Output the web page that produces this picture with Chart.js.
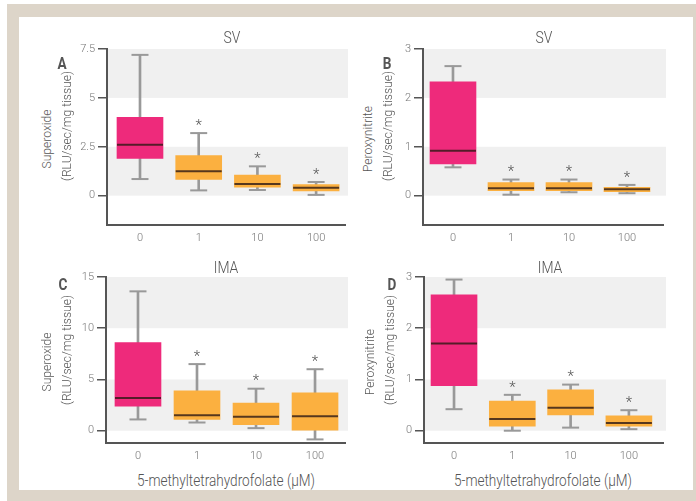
<!DOCTYPE html>
<html>
<head>
<meta charset="utf-8">
<script src="https://cdn.jsdelivr.net/npm/chart.js@4.4.0/dist/chart.umd.min.js"></script>
<style>
  html, body { margin: 0; padding: 0; width: 696px; height: 501px; overflow: hidden; background: #fff; }
  body { position: relative; font-family: Roboto, "Open Sans", sans-serif; font-weight: 300; color: #555; }
  #frame { position: absolute; left: 7px; top: 4px; width: 689px; height: 497px; background: #ddd5c9; }
  #inner { position: absolute; left: 19px; top: 17px; width: 674px; height: 473px; background: #fff; }
  canvas { position: absolute; }
  .txt { position: absolute; white-space: nowrap; line-height: 1; }
  .title { font-size: 17px; color: #555; transform: translate(-50%, -50%) scaleX(0.82); }
  .letter { font-size: 16px; font-weight: bold; color: #555; transform: translate(-50%, -50%) scaleX(0.85); }
  .ytitle { font-size: 13px; color: #555; transform: translate(-50%, -50%) rotate(-90deg) scaleX(0.93); }
  .xtitle { font-size: 17px; color: #555; transform: translate(-50%, -50%) scaleX(0.8); }
</style>
</head>
<body>
<div id="frame"></div>
<div id="inner"></div>

<canvas id="chartA" width="290" height="210" style="left:60px;top:40px"></canvas>
<canvas id="chartB" width="292" height="210" style="left:376px;top:40px"></canvas>
<canvas id="chartC" width="291" height="200" style="left:59px;top:268px"></canvas>
<canvas id="chartD" width="291" height="200" style="left:377px;top:268px"></canvas>

<div class="txt title" style="left:232px;top:37px">SV</div>
<div class="txt title" style="left:544px;top:37px">SV</div>
<div class="txt title" style="left:226px;top:267px">IMA</div>
<div class="txt title" style="left:550px;top:267px">IMA</div>

<div class="txt letter" style="left:62px;top:64px">A</div>
<div class="txt letter" style="left:387px;top:64px">B</div>
<div class="txt letter" style="left:63px;top:285px">C</div>
<div class="txt letter" style="left:392px;top:285px">D</div>

<div class="txt ytitle" style="left:46px;top:139px">Superoxide</div>
<div class="txt ytitle" style="left:65.5px;top:126px">(RLU/sec/mg tissue)</div>
<div class="txt ytitle" style="left:367px;top:139px">Peroxynitrite</div>
<div class="txt ytitle" style="left:387px;top:126px">(RLU/sec/mg tissue)</div>
<div class="txt ytitle" style="left:46px;top:362px">Superoxide</div>
<div class="txt ytitle" style="left:65.5px;top:350px">(RLU/sec/mg tissue)</div>
<div class="txt ytitle" style="left:369px;top:362px">Peroxynitrite</div>
<div class="txt ytitle" style="left:389px;top:350px">(RLU/sec/mg tissue)</div>

<div class="txt xtitle" style="left:226px;top:480px">5-methyltetrahydrofolate (μM)</div>
<div class="txt xtitle" style="left:543px;top:480px">5-methyltetrahydrofolate (μM)</div>

<script>
// 5-MTHF concentrations (µM) on the x axis, and significance marks per dose
const doseLabels = ['0', '1', '10', '100'];
const starLabels = ['', '*', '*', '*'];

// A: saphenous vein, superoxide
const svSuperoxideMin    = [0.85, 0.27, 0.29, 0.04];
const svSuperoxideQ1     = [1.9, 0.83, 0.44, 0.24];
const svSuperoxideMedian = [2.6, 1.25, 0.6, 0.4];
const svSuperoxideQ3     = [4.0, 2.05, 1.05, 0.57];
const svSuperoxideMax    = [7.2, 3.2, 1.5, 0.7];
const svSuperoxideTicks  = [0, 2.5, 5, 7.5];

// B: saphenous vein, peroxynitrite
const svPeroxMin    = [0.58, 0.02, 0.07, 0.05];
const svPeroxQ1     = [0.65, 0.1, 0.1, 0.08];
const svPeroxMedian = [0.92, 0.15, 0.15, 0.13];
const svPeroxQ3     = [2.33, 0.27, 0.27, 0.17];
const svPeroxMax    = [2.65, 0.33, 0.33, 0.22];
const svPeroxTicks  = [0, 1, 2, 3];

// C: internal mammary artery, superoxide
const imaSuperoxideMin    = [1.1, 0.8, 0.25, -0.85];
const imaSuperoxideQ1     = [2.4, 1.1, 0.6, 0.05];
const imaSuperoxideMedian = [3.2, 1.5, 1.35, 1.4];
const imaSuperoxideQ3     = [8.6, 3.9, 2.7, 3.7];
const imaSuperoxideMax    = [13.6, 6.5, 4.1, 6.0];
const imaSuperoxideTicks  = [0, 5, 10, 15];

// D: internal mammary artery, peroxynitrite
const imaPeroxMin    = [0.42, 0.0, 0.06, 0.03];
const imaPeroxQ1     = [0.88, 0.09, 0.31, 0.09];
const imaPeroxMedian = [1.7, 0.23, 0.45, 0.15];
const imaPeroxQ3     = [2.65, 0.58, 0.8, 0.29];
const imaPeroxMax    = [2.95, 0.7, 0.9, 0.4];
const imaPeroxTicks  = [0, 1, 2, 3];

const FONT = 'Roboto, "Open Sans", sans-serif';
const PINK = '#ee2a7b';
const ORANGE = '#fbb040';
const WHISKER = '#999999';
const MEDIAN = 'rgba(45, 25, 20, 0.8)';
const AXIS = '#555';
const BAND = '#f0f0f0';

// shaded horizontal bands behind the boxes, every other tick interval
const bandPlugin = {
  id: 'bands',
  beforeDraw(chart, args, opts) {
    const { ctx, chartArea } = chart;
    const y = chart.scales.y;
    ctx.save();
    ctx.fillStyle = BAND;
    for (const [lo, hi] of opts.ranges) {
      const top = y.getPixelForValue(hi);
      const bottom = y.getPixelForValue(lo);
      ctx.fillRect(chartArea.left, top, chartArea.right - chartArea.left + 3, bottom - top);
    }
    ctx.restore();
  }
};

// significance asterisks above the upper whiskers
const starPlugin = {
  id: 'stars',
  afterDatasetsDraw(chart, args, opts) {
    const { ctx } = chart;
    const x = chart.scales.x, y = chart.scales.y;
    ctx.save();
    ctx.fillStyle = '#555';
    ctx.font = '300 15px ' + FONT;
    ctx.textAlign = 'center';
    ctx.textBaseline = 'middle';
    opts.marks.forEach((m, i) => {
      if (!m) return;
      ctx.fillText(m, x.getPixelForValue(i), y.getPixelForValue(opts.tops[i]) - 7);
    });
    ctx.restore();
  }
};

function pts(arr) { return arr.map((v, i) => ({ x: i, y: v })); }
function spans(lo, hi) { return lo.map((v, i) => ({ x: i, y: [v, hi[i]] })); }

function boxPanel(id, s, yMin, yMax, yTicks, bands, xMin, xMax) {
  const colors = doseLabels.map((d, i) => (i === 0 ? PINK : ORANGE));
  return new Chart(document.getElementById(id), {
    data: {
      datasets: [
        { type: 'line', data: pts(s.median), showLine: false, pointStyle: 'line',
          pointRadius: 23, pointHoverRadius: 23, pointBorderWidth: 2, pointBorderColor: MEDIAN },
        { type: 'bar', data: spans(s.q1, s.q3), backgroundColor: colors,
          barThickness: 46, grouped: false, borderWidth: 0 },
        { type: 'line', data: pts(s.min).concat(pts(s.max)), showLine: false, pointStyle: 'line',
          pointRadius: 8.5, pointHoverRadius: 8.5, pointBorderWidth: 2, pointBorderColor: WHISKER },
        { type: 'bar', data: spans(s.min, s.max), backgroundColor: WHISKER,
          barThickness: 2, grouped: false, borderWidth: 0 }
      ]
    },
    options: {
      responsive: false,
      animation: false,
      events: [],
      layout: { autoPadding: false, padding: { top: 9, right: 5, left: 0, bottom: 0 } },
      plugins: {
        legend: { display: false },
        tooltip: { enabled: false },
        bands: { ranges: bands },
        stars: { marks: starLabels, tops: s.max }
      },
      scales: {
        x: {
          type: 'linear', min: xMin, max: xMax, offset: false,
          afterBuildTicks: sc => { sc.ticks = doseLabels.map((d, i) => ({ value: i })); },
          afterFit: sc => { sc.height = 25; sc.paddingLeft = 0; sc.paddingRight = 0; },
          ticks: { callback: v => doseLabels[v], color: '#777', padding: 7,
                   font: { family: FONT, size: 11, weight: '300' }, maxRotation: 0, autoSkip: false },
          grid: { offset: false, drawOnChartArea: false, drawTicks: false, color: AXIS },
          border: { display: true, color: AXIS, width: 2 }
        },
        y: {
          type: 'linear', min: yMin, max: yMax,
          afterBuildTicks: sc => { sc.ticks = yTicks.map(v => ({ value: v })); },
          afterFit: sc => { sc.width = 47; sc.paddingTop = 0; sc.paddingBottom = 0; },
          ticks: { callback: v => String(v), color: '#777', padding: 3,
                   font: { family: FONT, size: 11, weight: '300' } },
          grid: { drawOnChartArea: false, drawTicks: true, tickLength: 9, color: AXIS, lineWidth: 1.5 },
          border: { display: true, color: AXIS, width: 2 }
        }
      }
    },
    plugins: [bandPlugin, starPlugin]
  });
}

boxPanel('chartA',
  { min: svSuperoxideMin, q1: svSuperoxideQ1, median: svSuperoxideMedian, q3: svSuperoxideQ3, max: svSuperoxideMax },
  -1.5, 7.5, svSuperoxideTicks, [[0, 2.5], [5, 7.5]], -0.562, 3.492);

boxPanel('chartB',
  { min: svPeroxMin, q1: svPeroxQ1, median: svPeroxMedian, q3: svPeroxQ3, max: svPeroxMax },
  -0.6, 3, svPeroxTicks, [[0, 1], [2, 3]], -0.517, 3.621);

boxPanel('chartC',
  { min: imaSuperoxideMin, q1: imaSuperoxideQ1, median: imaSuperoxideMedian, q3: imaSuperoxideQ3, max: imaSuperoxideMax },
  -1.2, 15, imaSuperoxideTicks, [[0, 5], [10, 15]], -0.542, 3.508);

boxPanel('chartD',
  { min: imaPeroxMin, q1: imaPeroxQ1, median: imaPeroxMedian, q3: imaPeroxQ3, max: imaPeroxMax },
  -0.24, 3, imaPeroxTicks, [[0, 1], [2, 3]], -0.515, 3.585);
</script>
</body>
</html>
